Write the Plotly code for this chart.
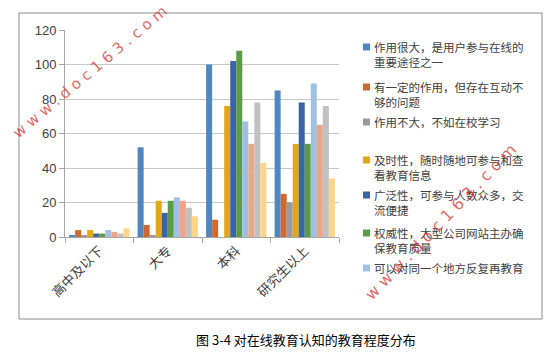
import plotly.graph_objects as go

categories = ["高中及以下", "大专", "本科", "研究生以上"]
series_names = [
    "作用很大，是用户参与在线的重要途径之一",
    "有一定的作用，但存在互动不够的问题",
    "作用不大，不如在校学习",
    "及时性，随时随地可参与和查看教育信息",
    "广泛性，可参与人数众多，交流便捷",
    "权威性，大型公司网站主办确保教育质量",
    "可以对同一个地方反复再教育",
    "系列8",
    "系列9",
    "系列10",
]
s1 = [1, 52, 100, 85]
s2 = [4, 7, 10, 25]
s3 = [1, 1, 0, 20]
s4 = [4, 21, 76, 54]
s5 = [2, 14, 102, 78]
s6 = [2, 21, 108, 54]
s7 = [4, 23, 67, 89]
s8 = [3, 21, 54, 65]
s9 = [2, 17, 78, 76]
s10 = [5, 12, 43, 34]
series_values = [s1, s2, s3, s4, s5, s6, s7, s8, s9, s10]
colors = ["#4E86C2", "#D0692F", "#9A9A9A", "#E0A818", "#3B64A6",
          "#5E9B48", "#9EC0E3", "#EDA58A", "#C0C0C0", "#FDD58A"]
legend_lines = [
    ["作用很大，是用户参与在线的", "重要途径之一"],
    ["有一定的作用，但存在互动不", "够的问题"],
    ["作用不大，不如在校学习"],
    ["及时性，随时随地可参与和查", "看教育信息"],
    ["广泛性，可参与人数众多，交", "流便捷"],
    ["权威性，大型公司网站主办确", "保教育质量"],
    ["可以对同一个地方反复再教育"],
]
legend_y = [47, 87, 122, 160, 195, 233, 268]
caption = "图 3-4 对在线教育认知的教育程度分布"

W, H = 556, 354
def px(x): return x / W
def py(y): return 1 - y / H

fig = go.Figure()
for name, vals, c in zip(series_names, series_values, colors):
    fig.add_trace(go.Bar(x=categories, y=vals, name=name, marker_color=c,
                         marker_line_width=0, showlegend=False))

font_cjk = "Noto Sans CJK SC, sans-serif"
fig.update_layout(
    width=W, height=H, margin=dict(l=0, r=0, t=0, b=0, autoexpand=False),
    paper_bgcolor="white", plot_bgcolor="white",
    barmode="group", bargap=0.12, bargroupgap=0,
    font=dict(family=font_cjk, color="#404040"),
    xaxis=dict(domain=[px(65), px(339)], showline=True, linecolor="#A6A6A6",
               automargin=False,
               ticks="outside", ticklen=5, tickcolor="#A6A6A6",
               tickson="boundaries", tickangle=-45,
               tickfont=dict(size=13, color="#404040", family=font_cjk)),
    yaxis=dict(domain=[py(237), py(30)], range=[0, 120], dtick=20,
               automargin=False,
               showline=True, linecolor="#A6A6A6", ticks="outside", ticklen=5,
               tickcolor="#A6A6A6", showgrid=True, gridcolor="#C8C8C8",
               zeroline=False,
               tickfont=dict(size=13, color="#404040", family="Liberation Sans, Arial")),
)

shapes = [dict(type="rect", xref="paper", yref="paper", x0=px(19), x1=px(542),
               y0=py(319), y1=py(13), line=dict(color="#8C8C8C", width=1))]
annotations = []
for i, (lines, y) in enumerate(zip(legend_lines, legend_y)):
    shapes.append(dict(type="rect", xref="paper", yref="paper",
                       x0=px(363), x1=px(370), y0=py(y + 3.5), y1=py(y - 3.5),
                       fillcolor=colors[i], line=dict(width=0)))
    for j, ln in enumerate(lines):
        annotations.append(dict(text=ln, xref="paper", yref="paper",
                                x=px(372), y=py(y + 15 * j), xanchor="left",
                                yanchor="middle", showarrow=False,
                                font=dict(size=11.5, color="#404040", family=font_cjk)))

annotations.append(dict(text=caption, xref="paper", yref="paper", x=px(306),
                        y=py(339), xanchor="center", yanchor="middle",
                        showarrow=False,
                        font=dict(size=13, color="#000000", family=font_cjk)))
wm = "w w w . d o c 1 6 3 . c o m"
annotations.append(dict(text=wm, xref="paper", yref="paper", x=px(90), y=py(72),
                        xanchor="center", yanchor="middle", showarrow=False,
                        textangle=-40,
                        font=dict(size=15, color="rgba(215,50,50,0.75)",
                                  family="DejaVu Sans")))
annotations.append(dict(text=wm, xref="paper", yref="paper", x=px(440), y=py(222),
                        xanchor="center", yanchor="middle", showarrow=False,
                        textangle=-46,
                        font=dict(size=16, color="rgba(215,50,50,0.75)",
                                  family="DejaVu Sans")))
fig.update_layout(shapes=shapes, annotations=annotations)
fig.write_html("out.html")
